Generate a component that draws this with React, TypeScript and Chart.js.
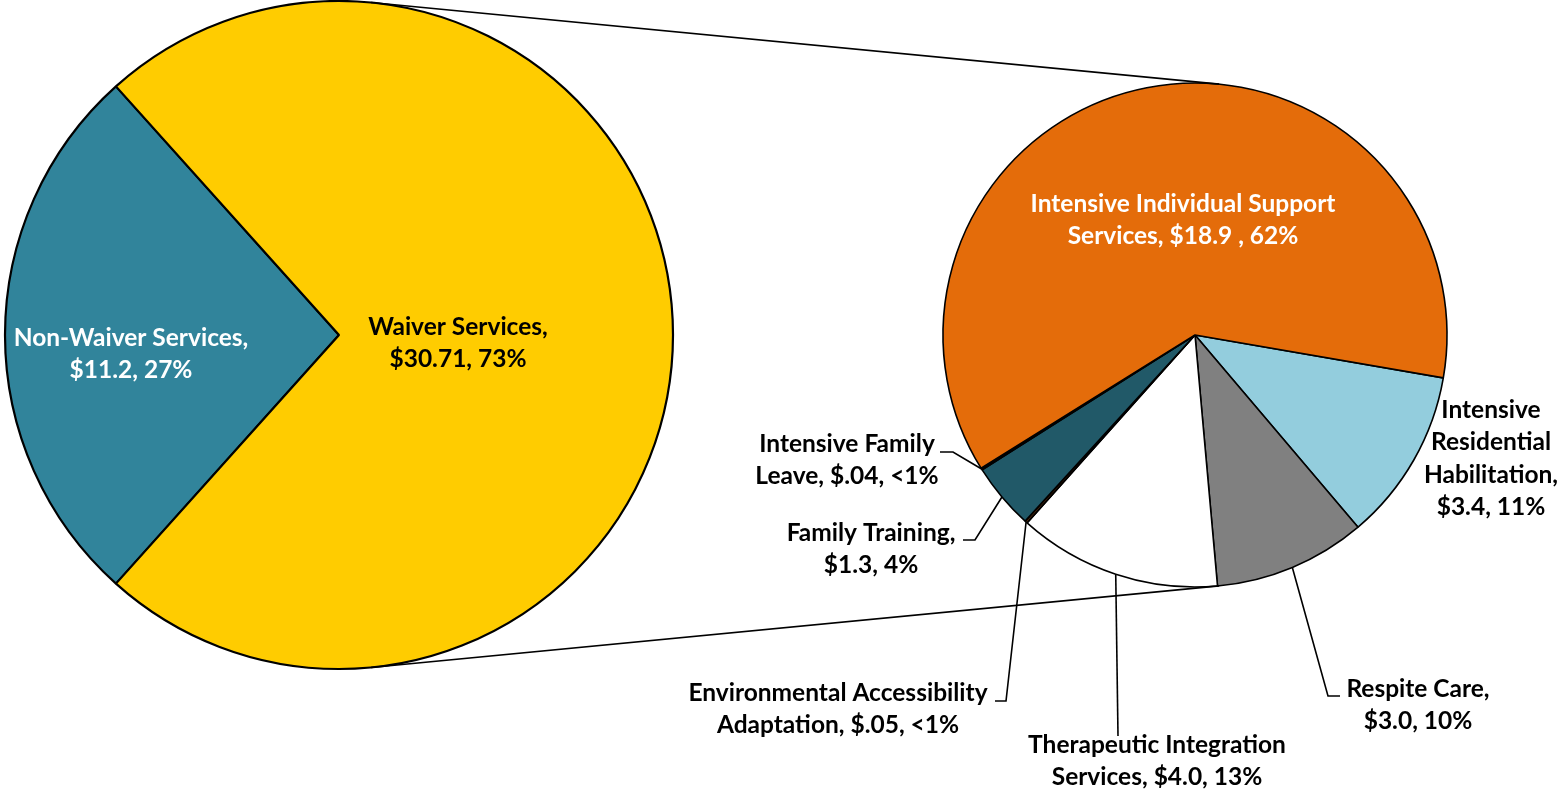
import React, { useEffect, useRef } from "react";
import { Chart, registerables } from "chart.js";

Chart.register(...registerables);

// ---------- Data ----------
const mainCategories = ["Non-Waiver Services", "Waiver Services"];
const mainValues = [11.2, 30.71];
const mainLabelLines = [
  ["Non-Waiver Services,", "$11.2, 27%"],
  ["Waiver Services,", "$30.71, 73%"],
];

const subCategories = [
  "Intensive Residential Habilitation",
  "Respite Care",
  "Therapeutic Integration Services",
  "Environmental Accessibility Adaptation",
  "Family Training",
  "Intensive Family Leave",
  "Intensive Individual Support Services",
];
const subValues = [3.4, 3.0, 4.0, 0.05, 1.3, 0.04, 18.9];
const subLabelLines = [
  ["Intensive", "Residential", "Habilitation,", "$3.4, 11%"],
  ["Respite Care,", "$3.0, 10%"],
  ["Therapeutic Integration", "Services, $4.0, 13%"],
  ["Environmental Accessibility", "Adaptation, $.05, <1%"],
  ["Family Training,", "$1.3, 4%"],
  ["Intensive Family", "Leave, $.04, <1%"],
  ["Intensive Individual Support", "Services, $18.9 , 62%"],
];

// ---------- Styles / layout ----------
const W = 1561;
const H = 793;
const FONT = "bold 24.5px Lato";
const LINE_H = 32.5;

const mainColors = ["#31849B", "#FFCC00"];
const mainTextColors = ["#FFFFFF", "#000000"];
const mainLabelOffsets = [
  { dx: -208, dy: 3 },
  { dx: 119, dy: -8 },
];

const subColors = ["#93CDDD", "#808080", "#FFFFFF", "#5A2E0C", "#215968", "#000000", "#E46C0A"];
const subTextColors = ["#000", "#000", "#000", "#000", "#000", "#000", "#FFFFFF"];
// label center of first line, relative to pie center; leader points relative to pie center
const subLabelLayout = [
  { dx: 296, dy: 75, leader: [] as number[][] },
  { dx: 223, dy: 354, leader: [[133, 361], [145, 361]] },
  { dx: -38, dy: 410, leader: [[-77, 401]] },
  { dx: -357, dy: 358, leader: [[-189, 366], [-200, 366]] },
  { dx: -324, dy: 198, leader: [[-220, 205], [-232, 205]] },
  { dx: -348, dy: 109, leader: [[-242, 117], [-255, 117]] },
  { dx: -12, dy: -131, leader: [] as number[][] },
];

function drawLines(ctx: CanvasRenderingContext2D, lines: string[], x: number, y: number, color: string) {
  ctx.save();
  ctx.font = FONT;
  ctx.fillStyle = color;
  ctx.textAlign = "center";
  ctx.textBaseline = "middle";
  lines.forEach((t, i) => ctx.fillText(t, x, y + i * LINE_H));
  ctx.restore();
}

const mainSum = mainValues.reduce((a, b) => a + b, 0);
const firstSpan = (mainValues[0] / mainSum) * 360;
const mainRotation = 270 - firstSpan / 2;

export default function App() {
  const leftRef = useRef<HTMLCanvasElement | null>(null);
  const rightRef = useRef<HTMLCanvasElement | null>(null);

  useEffect(() => {
    if (!leftRef.current || !rightRef.current) return;

    const leftLabels = {
      id: "leftLabels",
      afterDatasetsDraw(chart: any) {
        const ctx = chart.ctx;
        const arcs = chart.getDatasetMeta(0).data;
        arcs.forEach((arc: any, i: number) => {
          const o = mainLabelOffsets[i];
          drawLines(ctx, mainLabelLines[i], arc.x + o.dx, arc.y + o.dy, mainTextColors[i]);
        });
      },
    };

    const left = new Chart(leftRef.current, {
      type: "pie",
      data: {
        labels: mainCategories,
        datasets: [
          {
            data: mainValues,
            backgroundColor: mainColors,
            borderColor: "#000",
            borderWidth: 2.2,
          },
        ],
      },
      options: {
        responsive: false,
        animation: false,
        rotation: mainRotation,
        radius: 334,
        layout: { padding: { left: 0, top: 0, right: W - 678, bottom: H - 670 } },
        plugins: { legend: { display: false }, tooltip: { enabled: false } },
      },
      plugins: [leftLabels],
    } as any);

    const rightDecor = {
      id: "rightDecor",
      afterDatasetsDraw(chart: any) {
        const ctx: CanvasRenderingContext2D = chart.ctx;
        const arcs = chart.getDatasetMeta(0).data;
        const a0 = arcs[0];
        const cx = a0.x;
        const cy = a0.y;
        const r2 = a0.outerRadius;

        // connector lines (external tangents between the two pies)
        const la = left.getDatasetMeta(0).data[0] as any;
        const c1x = la.x, c1y = la.y, r1 = la.outerRadius;
        const d = Math.hypot(cx - c1x, cy - c1y);
        const base = Math.atan2(cy - c1y, cx - c1x);
        const phi = Math.acos((r1 - r2) / d);
        ctx.save();
        ctx.strokeStyle = "#000";
        ctx.lineWidth = 1.6;
        [base - phi, base + phi].forEach((ang) => {
          ctx.beginPath();
          ctx.moveTo(c1x + r1 * Math.cos(ang), c1y + r1 * Math.sin(ang));
          ctx.lineTo(cx + r2 * Math.cos(ang), cy + r2 * Math.sin(ang));
          ctx.stroke();
        });

        // leader lines
        arcs.forEach((arc: any, i: number) => {
          const lay = subLabelLayout[i];
          if (!lay.leader.length) return;
          const mid = (arc.startAngle + arc.endAngle) / 2;
          ctx.beginPath();
          ctx.moveTo(cx + r2 * Math.cos(mid), cy + r2 * Math.sin(mid));
          lay.leader.forEach((p) => ctx.lineTo(cx + p[0], cy + p[1]));
          ctx.stroke();
        });
        ctx.restore();

        // labels
        arcs.forEach((arc: any, i: number) => {
          const lay = subLabelLayout[i];
          drawLines(ctx, subLabelLines[i], cx + lay.dx, cy + lay.dy, subTextColors[i]);
        });
      },
    };

    const right = new Chart(rightRef.current, {
      type: "pie",
      data: {
        labels: subCategories,
        datasets: [
          {
            data: subValues,
            backgroundColor: subColors,
            borderColor: "#000",
            borderWidth: 1.6,
          },
        ],
      },
      options: {
        responsive: false,
        animation: false,
        rotation: 99.8,
        radius: 252,
        layout: { padding: { left: 935, top: 75, right: W - 1455, bottom: H - 595 } },
        plugins: { legend: { display: false }, tooltip: { enabled: false } },
      },
      plugins: [rightDecor],
    } as any);

    return () => {
      right.destroy();
      left.destroy();
    };
  }, []);

  const canvasStyle: React.CSSProperties = {
    position: "absolute",
    left: 0,
    top: 0,
    width: W,
    height: H,
  };

  return (
    <div style={{ position: "fixed", left: 0, top: 0, width: W, height: H, background: "#fff", overflow: "hidden" }}>
      <canvas ref={leftRef} width={W} height={H} style={canvasStyle} />
      <canvas ref={rightRef} width={W} height={H} style={canvasStyle} />
    </div>
  );
}
